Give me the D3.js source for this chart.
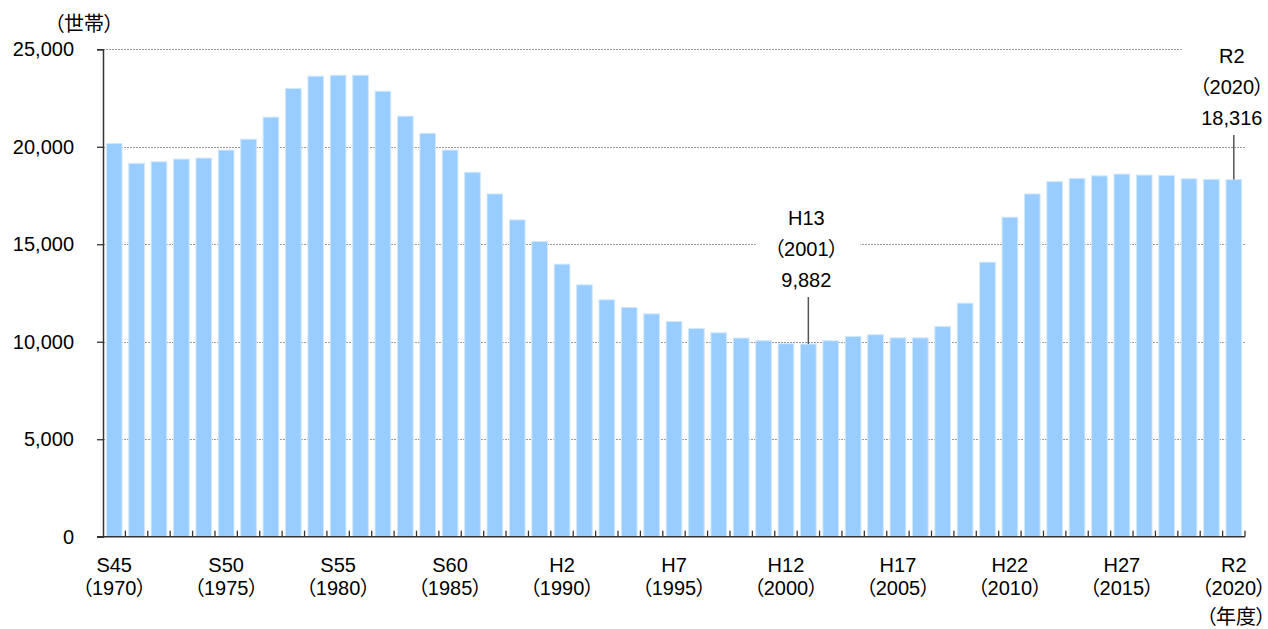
<!DOCTYPE html>
<html>
<head>
<meta charset="utf-8">
<script src="https://cdn.jsdelivr.net/npm/d3@7"></script>
<style>
  html, body { margin: 0; padding: 0; background: #fff; }
  svg text { font-family: "Liberation Sans", "Noto Sans CJK JP", sans-serif; fill: #000; font-feature-settings: "palt"; }
</style>
</head>
<body>
<div id="chart"></div>
<script>
// 年度 (西暦) と和暦ラベル
const years = d3.range(1970, 2021);
const eraLabels = ['S45', 'S50', 'S55', 'S60', 'H2', 'H7', 'H12', 'H17', 'H22', 'H27', 'R2'];
const labelYears = [1970, 1975, 1980, 1985, 1990, 1995, 2000, 2005, 2010, 2015, 2020];

// 世帯数
const households = [
  20170, 19150, 19230, 19370, 19420, 19830, 20390, 21520, 22990, 23620,
  23670, 23670, 22850, 21570, 20690, 19830, 18690, 17580, 16250, 15140,
  13980, 12920, 12150, 11760, 11430, 11040, 10680, 10460, 10190, 10050,
  9900, 9882, 10050, 10270, 10360, 10200, 10200, 10780, 11980, 14080,
  16390, 17580, 18210, 18380, 18510, 18600, 18550, 18530, 18360, 18330,
  18316
];

const yTicks = [0, 5000, 10000, 15000, 20000, 25000];

// 注記 (最小値と最新値)
const callouts = [
  { year: 2001, lines: ['H13', '（2001）', '9,882'], baseY: 225 },
  { year: 2020, lines: ['R2', '（2020）', '18,316'], baseY: 63 }
];

const W = 1268, H = 629;
const plotL = 103, plotR = 1245, plotT = 49.3, plotB = 536.7;
const fs = '20px';

const svg = d3.select('#chart').append('svg')
  .attr('width', W)
  .attr('height', H);

const x = d3.scaleBand()
  .domain(years)
  .range([plotL, plotR])
  .paddingInner(0.3)
  .paddingOuter(0.15);

const y = d3.scaleLinear()
  .domain([0, 25000])
  .range([plotB, plotT]);

// grid lines
svg.append('g')
  .selectAll('line')
  .data(yTicks.filter(d => d > 0))
  .join('line')
  .attr('x1', plotL)
  .attr('x2', plotR)
  .attr('y1', d => Math.round(y(d)) + 0.5)
  .attr('y2', d => Math.round(y(d)) + 0.5)
  .attr('stroke', '#9a9a9a')
  .attr('stroke-width', 1)
  .attr('stroke-dasharray', '2,1');

// bars
svg.append('g')
  .selectAll('rect')
  .data(households)
  .join('rect')
  .attr('x', (d, i) => x(years[i]))
  .attr('y', d => y(d))
  .attr('width', x.bandwidth())
  .attr('height', d => plotB - y(d))
  .attr('fill', '#99ccff')
  .attr('stroke', '#d2e8ff')
  .attr('stroke-width', 1);

// y axis
const yAxis = svg.append('g')
  .attr('transform', `translate(${plotL},0)`)
  .call(d3.axisLeft(y).tickValues(yTicks).tickSize(6).tickPadding(23).tickFormat(d3.format(',')));
yAxis.select('.domain').attr('stroke', '#333').attr('stroke-width', 1.5);
yAxis.selectAll('.tick line').attr('stroke', '#333').attr('stroke-width', 1.3);
yAxis.selectAll('.tick text').style('font-size', fs);

// x axis line and ticks between categories
const xAxis = svg.append('g');
xAxis.append('line')
  .attr('x1', plotL - 6).attr('x2', plotR)
  .attr('y1', plotB).attr('y2', plotB)
  .attr('stroke', '#333').attr('stroke-width', 1.5);
xAxis.selectAll('line.tk')
  .data(years.slice(1).concat([null]))
  .join('line')
  .attr('class', 'tk')
  .attr('x1', d => d === null ? plotR : x(d) - x.step() * x.paddingInner() / 2)
  .attr('x2', d => d === null ? plotR : x(d) - x.step() * x.paddingInner() / 2)
  .attr('y1', plotB - 6)
  .attr('y2', plotB)
  .attr('stroke', '#333')
  .attr('stroke-width', 1.3);

const xl = svg.append('g');
xl.selectAll('text.era')
  .data(labelYears)
  .join('text')
  .attr('class', 'era')
  .attr('text-anchor', 'middle')
  .style('font-size', fs)
  .attr('x', d => x(d) + x.bandwidth() / 2)
  .attr('y', 572)
  .text((d, i) => eraLabels[i]);
xl.selectAll('text.yr')
  .data(labelYears)
  .join('text')
  .attr('class', 'yr')
  .attr('text-anchor', 'middle')
  .style('font-size', fs)
  .attr('x', d => x(d) + x.bandwidth() / 2)
  .attr('y', 595)
  .text(d => `（${d}）`);

// unit labels
svg.append('text').attr('x', 54).attr('y', 31).style('font-size', fs).text('（世帯）');
svg.append('text').attr('x', 1266).attr('y', 624).attr('text-anchor', 'end').style('font-size', fs).text('（年度）');

// callouts
callouts.forEach(c => {
  const v = households[years.indexOf(c.year)];
  const cx = x(c.year) + x.bandwidth() / 2;
  svg.append('rect')
    .attr('x', cx - 52).attr('y', c.baseY - 20)
    .attr('width', 104).attr('height', 88)
    .attr('fill', '#fff');
  svg.append('line')
    .attr('x1', cx).attr('x2', cx)
    .attr('y1', c.baseY + 72).attr('y2', y(v))
    .attr('stroke', '#555').attr('stroke-width', 1.5);
  c.lines.forEach((s, i) => {
    svg.append('text')
      .attr('text-anchor', 'middle')
      .style('font-size', fs)
      .attr('x', cx - 2)
      .attr('y', c.baseY + i * 31)
      .text(s);
  });
});
</script>
</body>
</html>
